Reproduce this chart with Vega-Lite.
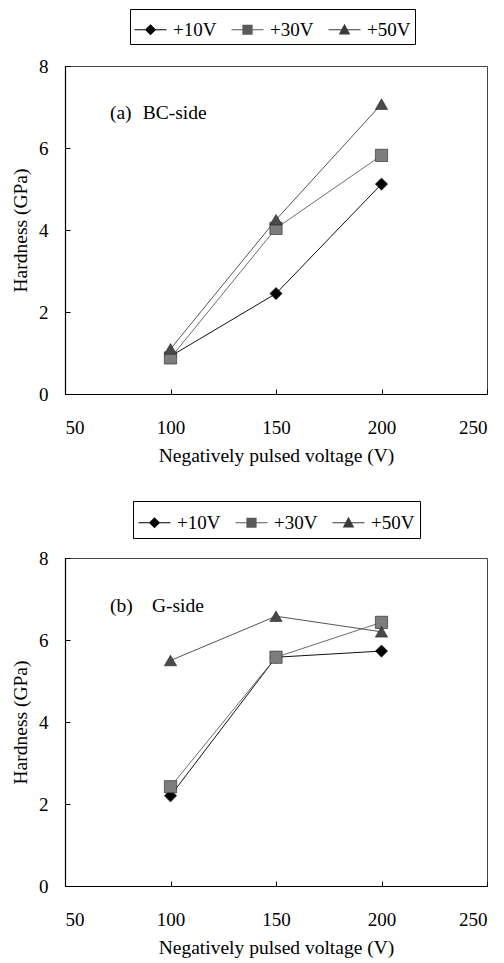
{
  "$schema": "https://vega.github.io/schema/vega-lite/v6.json",
  "background": "white",
  "padding": {"left": 10, "top": 8, "right": 5, "bottom": 5},
  "spacing": 35,
  "data": {"values": [
    {"panel": "a", "series": "+10V", "voltage": 100, "hardness": 0.92},
    {"panel": "a", "series": "+10V", "voltage": 150, "hardness": 2.45},
    {"panel": "a", "series": "+10V", "voltage": 200, "hardness": 5.12},
    {"panel": "a", "series": "+30V", "voltage": 100, "hardness": 0.88},
    {"panel": "a", "series": "+30V", "voltage": 150, "hardness": 4.04},
    {"panel": "a", "series": "+30V", "voltage": 200, "hardness": 5.82},
    {"panel": "a", "series": "+50V", "voltage": 100, "hardness": 1.1},
    {"panel": "a", "series": "+50V", "voltage": 150, "hardness": 4.25},
    {"panel": "a", "series": "+50V", "voltage": 200, "hardness": 7.07},
    {"panel": "b", "series": "+10V", "voltage": 100, "hardness": 2.2},
    {"panel": "b", "series": "+10V", "voltage": 150, "hardness": 5.58},
    {"panel": "b", "series": "+10V", "voltage": 200, "hardness": 5.73},
    {"panel": "b", "series": "+30V", "voltage": 100, "hardness": 2.42},
    {"panel": "b", "series": "+30V", "voltage": 150, "hardness": 5.58},
    {"panel": "b", "series": "+30V", "voltage": 200, "hardness": 6.43},
    {"panel": "b", "series": "+50V", "voltage": 100, "hardness": 5.5},
    {"panel": "b", "series": "+50V", "voltage": 150, "hardness": 6.58},
    {"panel": "b", "series": "+50V", "voltage": 200, "hardness": 6.2}
  ]},
  "resolve": {
    "scale": {"shape": "independent", "fill": "independent", "x": "independent", "y": "independent"},
    "legend": {"shape": "independent", "fill": "independent"},
    "axis": {"x": "independent", "y": "independent"}
  },
  "vconcat": [
    {
      "width": 422,
      "height": 328,
      "layer": [
        {
          "transform": [{"filter": "datum.panel === 'a'"}],
          "mark": {"type": "line", "strokeWidth": 1},
          "encoding": {
            "x": {"field": "voltage", "type": "quantitative", "scale": {"domain": [50, 250], "nice": false}, "axis": {"title": "Negatively pulsed voltage (V)", "values": [50, 100, 150, 200, 250], "labelPadding": 29, "titlePadding": 9}},
            "y": {"field": "hardness", "type": "quantitative", "scale": {"domain": [0, 8], "nice": false}, "axis": {"title": "Hardness (GPa)", "values": [0, 2, 4, 6, 8], "labelPadding": 22, "titlePadding": 8}},
            "detail": {"field": "series"},
            "stroke": {"condition": [{"test": "datum.series === '+10V'", "value": "#111111"}, {"test": "datum.series === '+30V'", "value": "#6e6e6e"}], "value": "#555555"}
          }
        },
        {
          "transform": [{"filter": "datum.panel === 'a'"}],
          "mark": {"type": "point", "filled": true, "size": 150, "opacity": 1, "stroke": "#222222", "strokeWidth": 0.6},
          "encoding": {
            "x": {"field": "voltage", "type": "quantitative"},
            "y": {"field": "hardness", "type": "quantitative"},
            "fill": {"condition": [{"test": "datum.series === '+10V'", "value": "#000000"}, {"test": "datum.series === '+30V'", "value": "#7d7d7d"}], "value": "#4a4a4a"},
            "shape": {"condition": [{"test": "datum.series === '+10V'", "value": "diamond"}, {"test": "datum.series === '+30V'", "value": "square"}], "value": "triangle-up"}
          }
        },
        {
          "transform": [{"filter": "datum.panel === 'a'"}],
          "mark": {"type": "point", "filled": true, "opacity": 0, "size": 10, "stroke": "#000000", "strokeWidth": 1},
          "encoding": {
            "x": {"field": "voltage", "type": "quantitative"},
            "y": {"field": "hardness", "type": "quantitative"},
            "fill": {"field": "series", "type": "nominal", "scale": {"domain": ["+10V", "+30V", "+50V"], "range": ["#000000", "#5a5a5a", "#3a3a3a"]}},
            "shape": {"field": "series", "type": "nominal", "scale": {"domain": ["+10V", "+30V", "+50V"], "range": ["M-1,-0.033H1V0.033H-1ZM0,-0.35L0.35,0L0,0.35L-0.35,0Z", "M-1,-0.033H1V0.033H-1ZM-0.32,-0.32H0.32V0.32H-0.32Z", "M-1,-0.033H1V0.033H-1ZM0,-0.38L0.36,0.3H-0.36Z"]},
              "legend": {"title": null, "orient": "none", "legendX": 65, "legendY": -57, "direction": "horizontal", "columns": 3, "strokeColor": "black", "padding": 4, "symbolSize": 1024, "symbolOpacity": 1, "symbolStrokeColor": "#000000", "symbolStrokeWidth": 1, "labelFont": "Liberation Serif", "labelFontSize": 19, "labelColor": "black", "labelOffset": 6, "columnPadding": 12}}
          }
        },
        {
          "data": {"values": [{}]},
          "mark": {"type": "text", "text": "(a)", "font": "Liberation Serif", "fontSize": 19.5, "align": "left", "baseline": "middle", "color": "black"},
          "encoding": {"x": {"datum": 71.3}, "y": {"datum": 6.85}}
        },
        {
          "data": {"values": [{}]},
          "mark": {"type": "text", "text": "BC-side", "font": "Liberation Serif", "fontSize": 19.5, "align": "left", "baseline": "middle", "color": "black"},
          "encoding": {"x": {"datum": 86.8}, "y": {"datum": 6.85}}
        }
      ]
    },
    {
      "width": 422,
      "height": 328,
      "layer": [
        {
          "transform": [{"filter": "datum.panel === 'b'"}],
          "mark": {"type": "line", "strokeWidth": 1},
          "encoding": {
            "x": {"field": "voltage", "type": "quantitative", "scale": {"domain": [50, 250], "nice": false}, "axis": {"title": "Negatively pulsed voltage (V)", "values": [50, 100, 150, 200, 250], "labelPadding": 29, "titlePadding": 9}},
            "y": {"field": "hardness", "type": "quantitative", "scale": {"domain": [0, 8], "nice": false}, "axis": {"title": "Hardness (GPa)", "values": [0, 2, 4, 6, 8], "labelPadding": 22, "titlePadding": 8}},
            "detail": {"field": "series"},
            "stroke": {"condition": [{"test": "datum.series === '+10V'", "value": "#111111"}, {"test": "datum.series === '+30V'", "value": "#6e6e6e"}], "value": "#555555"}
          }
        },
        {
          "transform": [{"filter": "datum.panel === 'b'"}],
          "mark": {"type": "point", "filled": true, "size": 150, "opacity": 1, "stroke": "#222222", "strokeWidth": 0.6},
          "encoding": {
            "x": {"field": "voltage", "type": "quantitative"},
            "y": {"field": "hardness", "type": "quantitative"},
            "fill": {"condition": [{"test": "datum.series === '+10V'", "value": "#000000"}, {"test": "datum.series === '+30V'", "value": "#7d7d7d"}], "value": "#4a4a4a"},
            "shape": {"condition": [{"test": "datum.series === '+10V'", "value": "diamond"}, {"test": "datum.series === '+30V'", "value": "square"}], "value": "triangle-up"}
          }
        },
        {
          "transform": [{"filter": "datum.panel === 'b'"}],
          "mark": {"type": "point", "filled": true, "opacity": 0, "size": 10, "stroke": "#000000", "strokeWidth": 1},
          "encoding": {
            "x": {"field": "voltage", "type": "quantitative"},
            "y": {"field": "hardness", "type": "quantitative"},
            "fill": {"field": "series", "type": "nominal", "scale": {"domain": ["+10V", "+30V", "+50V"], "range": ["#000000", "#5a5a5a", "#3a3a3a"]}},
            "shape": {"field": "series", "type": "nominal", "scale": {"domain": ["+10V", "+30V", "+50V"], "range": ["M-1,-0.033H1V0.033H-1ZM0,-0.35L0.35,0L0,0.35L-0.35,0Z", "M-1,-0.033H1V0.033H-1ZM-0.32,-0.32H0.32V0.32H-0.32Z", "M-1,-0.033H1V0.033H-1ZM0,-0.38L0.36,0.3H-0.36Z"]},
              "legend": {"title": null, "orient": "none", "legendX": 68, "legendY": -57, "direction": "horizontal", "columns": 3, "strokeColor": "black", "padding": 5, "symbolSize": 1024, "symbolOpacity": 1, "symbolStrokeColor": "#000000", "symbolStrokeWidth": 1, "labelFont": "Liberation Serif", "labelFontSize": 19, "labelColor": "black", "labelOffset": 6, "columnPadding": 12}}
          }
        },
        {
          "data": {"values": [{}]},
          "mark": {"type": "text", "text": "(b)", "font": "Liberation Serif", "fontSize": 19.5, "align": "left", "baseline": "middle", "color": "black"},
          "encoding": {"x": {"datum": 71.3}, "y": {"datum": 6.82}}
        },
        {
          "data": {"values": [{}]},
          "mark": {"type": "text", "text": "G-side", "font": "Liberation Serif", "fontSize": 19.5, "align": "left", "baseline": "middle", "color": "black"},
          "encoding": {"x": {"datum": 91.2}, "y": {"datum": 6.82}}
        }
      ]
    }
  ],
  "config": {
    "view": {"stroke": "#444444", "strokeWidth": 1},
    "axis": {
      "labelFont": "Liberation Serif", "labelFontSize": 19, "labelColor": "black",
      "titleFont": "Liberation Serif", "titleFontSize": 19.5, "titleFontWeight": "normal", "titleColor": "black",
      "grid": false, "domainColor": "#000000", "domainWidth": 1.2, "tickColor": "#000000", "tickSize": -5
    }
  }
}
